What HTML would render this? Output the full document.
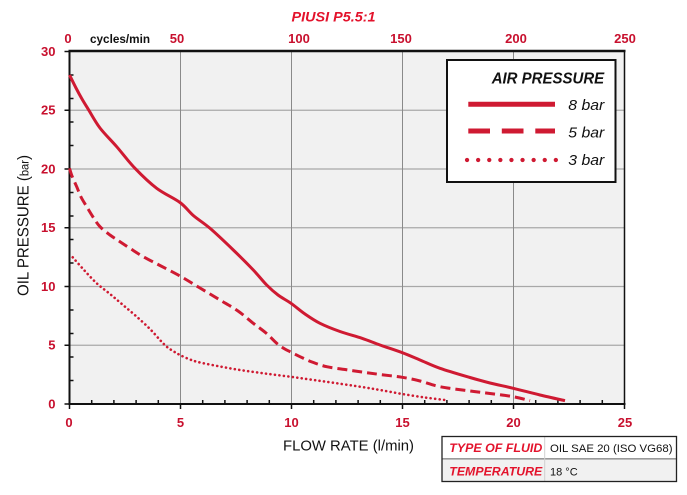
<!DOCTYPE html>
<html>
<head>
<meta charset="utf-8">
<style>
  html,body{margin:0;padding:0;background:#fff;}
  svg{display:block;}
  text{font-family:"Liberation Sans", sans-serif;}
</style>
</head>
<body>
<svg width="687" height="495" viewBox="0 0 687 495" xmlns="http://www.w3.org/2000/svg">
  <!-- title -->
  <text x="291.5" y="21.5" font-size="14" font-weight="bold" font-style="italic" fill="#e3132c" textLength="84" lengthAdjust="spacingAndGlyphs">PIUSI  P5.5:1</text>

  <!-- top axis labels -->
  <g font-size="13" font-weight="bold" fill="#c8102e" text-anchor="middle">
    <text x="68" y="43">0</text>
    <text x="177" y="43">50</text>
    <text x="299" y="43">100</text>
    <text x="401" y="43">150</text>
    <text x="516" y="43">200</text>
    <text x="625" y="43">250</text>
  </g>
  <text x="90" y="43" font-size="12" font-weight="bold" fill="#111" textLength="60" lengthAdjust="spacingAndGlyphs">cycles/min</text>

  <!-- plot background -->
  <rect x="69.5" y="51" width="555" height="353" fill="#f1f1f1"/>

  <!-- gridlines -->
  <g stroke="#a8a8a8" stroke-width="1.3">
    <line x1="69.5" y1="345.25" x2="624.5" y2="345.25"/>
    <line x1="69.5" y1="286.5" x2="624.5" y2="286.5"/>
    <line x1="69.5" y1="227.75" x2="624.5" y2="227.75"/>
    <line x1="69.5" y1="169" x2="624.5" y2="169"/>
    <line x1="69.5" y1="110.25" x2="624.5" y2="110.25"/>
  </g>
  <g stroke="#8a8a8a" stroke-width="1">
    <line x1="180.5" y1="51" x2="180.5" y2="404"/>
    <line x1="291.5" y1="51" x2="291.5" y2="404"/>
    <line x1="402.5" y1="51" x2="402.5" y2="404"/>
    <line x1="513.5" y1="51" x2="513.5" y2="404"/>
  </g>

  <!-- axes/border -->
  <line x1="68.5" y1="51" x2="625.5" y2="51" stroke="#111" stroke-width="2.6"/>
  <line x1="624.5" y1="51" x2="624.5" y2="405" stroke="#111" stroke-width="1.5"/>
  <line x1="69.5" y1="50" x2="69.5" y2="405" stroke="#111" stroke-width="2"/>
  <line x1="68.5" y1="404" x2="625.5" y2="404" stroke="#111" stroke-width="2"/>

  <!-- y ticks -->
  <g stroke="#111" stroke-width="1.5">
    <line x1="64.5" y1="404" x2="69.5" y2="404"/>
    <line x1="64.5" y1="345.25" x2="69.5" y2="345.25"/>
    <line x1="64.5" y1="286.5" x2="69.5" y2="286.5"/>
    <line x1="64.5" y1="227.75" x2="69.5" y2="227.75"/>
    <line x1="64.5" y1="169" x2="69.5" y2="169"/>
    <line x1="64.5" y1="110.25" x2="69.5" y2="110.25"/>
    <line x1="64.5" y1="51.5" x2="69.5" y2="51.5"/>
    <line x1="69.5" y1="380.5" x2="73.5" y2="380.5"/>
    <line x1="69.5" y1="357" x2="73.5" y2="357"/>
    <line x1="69.5" y1="333.5" x2="73.5" y2="333.5"/>
    <line x1="69.5" y1="310" x2="73.5" y2="310"/>
    <line x1="69.5" y1="263" x2="73.5" y2="263"/>
    <line x1="69.5" y1="239.5" x2="73.5" y2="239.5"/>
    <line x1="69.5" y1="216" x2="73.5" y2="216"/>
    <line x1="69.5" y1="192.5" x2="73.5" y2="192.5"/>
    <line x1="69.5" y1="145.5" x2="73.5" y2="145.5"/>
    <line x1="69.5" y1="122" x2="73.5" y2="122"/>
    <line x1="69.5" y1="98.5" x2="73.5" y2="98.5"/>
    <line x1="69.5" y1="75" x2="73.5" y2="75"/>
  </g>

  <!-- x ticks -->
  <g stroke="#111" stroke-width="1.5">
    <line x1="69.5" y1="404" x2="69.5" y2="409"/>
    <line x1="180.5" y1="404" x2="180.5" y2="409"/>
    <line x1="291.5" y1="404" x2="291.5" y2="409"/>
    <line x1="402.5" y1="404" x2="402.5" y2="409"/>
    <line x1="513.5" y1="404" x2="513.5" y2="409"/>
    <line x1="624.5" y1="404" x2="624.5" y2="409"/>
    <line x1="91.7" y1="400" x2="91.7" y2="404"/>
    <line x1="113.9" y1="400" x2="113.9" y2="404"/>
    <line x1="136.1" y1="400" x2="136.1" y2="404"/>
    <line x1="158.3" y1="400" x2="158.3" y2="404"/>
    <line x1="202.7" y1="400" x2="202.7" y2="404"/>
    <line x1="224.9" y1="400" x2="224.9" y2="404"/>
    <line x1="247.1" y1="400" x2="247.1" y2="404"/>
    <line x1="269.3" y1="400" x2="269.3" y2="404"/>
    <line x1="313.7" y1="400" x2="313.7" y2="404"/>
    <line x1="335.9" y1="400" x2="335.9" y2="404"/>
    <line x1="358.1" y1="400" x2="358.1" y2="404"/>
    <line x1="380.3" y1="400" x2="380.3" y2="404"/>
    <line x1="424.7" y1="400" x2="424.7" y2="404"/>
    <line x1="446.9" y1="400" x2="446.9" y2="404"/>
    <line x1="469.1" y1="400" x2="469.1" y2="404"/>
    <line x1="491.3" y1="400" x2="491.3" y2="404"/>
    <line x1="535.7" y1="400" x2="535.7" y2="404"/>
    <line x1="557.9" y1="400" x2="557.9" y2="404"/>
    <line x1="580.1" y1="400" x2="580.1" y2="404"/>
    <line x1="602.3" y1="400" x2="602.3" y2="404"/>
  </g>

  <!-- y labels -->
  <g font-size="13" font-weight="bold" fill="#c8102e" text-anchor="end">
    <text x="55.5" y="408.5">0</text>
    <text x="55.5" y="349.7">5</text>
    <text x="55.5" y="291">10</text>
    <text x="55.5" y="232.2">15</text>
    <text x="55.5" y="173.5">20</text>
    <text x="55.5" y="114.7">25</text>
    <text x="55.5" y="56">30</text>
  </g>

  <!-- x labels -->
  <g font-size="13" font-weight="bold" fill="#c8102e" text-anchor="middle">
    <text x="69" y="427">0</text>
    <text x="180.5" y="427">5</text>
    <text x="291.5" y="427">10</text>
    <text x="402.5" y="427">15</text>
    <text x="513.5" y="427">20</text>
    <text x="625" y="427">25</text>
  </g>

  <!-- axis titles -->
  <text x="283" y="450.5" font-size="15" fill="#111" textLength="131" lengthAdjust="spacingAndGlyphs">FLOW RATE (l/min)</text>
  <text transform="translate(28.5,296) rotate(-90)" font-size="15.5" fill="#111" textLength="141" lengthAdjust="spacingAndGlyphs">OIL PRESSURE (<tspan font-size="11.5">bar</tspan>)</text>

  <!-- curves -->
  <g fill="none" stroke="#cf1a32" stroke-linejoin="round">
    <polyline class="sm" stroke-width="3" points="69.5,75 76,88 82,99 88.3,109.3 100,128 116.7,146.7 135,168.3 156.7,188.3 180,202.5 193.3,215.5 210,228.3 233.3,250 253.3,270 266.7,285 278,295 291,303.3 305,314 320,323.3 340,331.5 362,338.3 380,345 402.3,352.7 420,360 440,368.3 470,377.5 490,383 513.3,388.3 540,395 565,400.7"/>
    <polyline class="sm" stroke-width="3" stroke-dasharray="10 5" points="69.5,168.3 72,176 76.7,186.7 81,197 86.7,206.7 93,217 100,226.7 110,235 120,241.7 131,249 143.3,256.7 160,265.5 180,276 200,288 220,300 238,311 253.3,323.3 266,333 276.7,343.3 284,348.5 290,351.7 300,356.7 312,362 326.7,366.7 345,369.5 362,372 380,374.5 402.3,377.3 420,381 440,386.7 470,391 490,393.5 513.3,396.7 530,400.7"/>
    <polyline class="sm" stroke-width="2.6" stroke-linecap="round" stroke-dasharray="0.1 4.4" points="72.7,257.3 84,270 96.7,283.3 110,294 123,305 136.7,316.7 150,329 160,340 166.7,346.7 173,351 180,355 190,359.5 200,362.5 220,366.5 240,370 265,373.5 290,376.7 310,379.5 330,382.3 360,386.7 380,390 402.3,394 425,397.5 445,400"/>
  </g>

  <!-- legend -->
  <rect x="447" y="60" width="168.5" height="122" fill="#fff" stroke="#111" stroke-width="2"/>
  <text x="491.7" y="83.3" font-size="16" font-weight="bold" font-style="italic" fill="#111" textLength="112.5" lengthAdjust="spacingAndGlyphs">AIR PRESSURE</text>
  <line x1="468.3" y1="104.3" x2="555" y2="104.3" stroke="#cf1a32" stroke-width="5"/>
  <line x1="468.3" y1="131" x2="555" y2="131" stroke="#cf1a32" stroke-width="5" stroke-dasharray="21.7 11.8"/>
  <line x1="467" y1="160" x2="556" y2="160" stroke="#cf1a32" stroke-width="4.2" stroke-linecap="round" stroke-dasharray="0.1 11"/>
  <g font-size="15" font-style="italic" fill="#111">
    <text x="568.3" y="110" textLength="36" lengthAdjust="spacingAndGlyphs">8 bar</text>
    <text x="568.3" y="137.5" textLength="36" lengthAdjust="spacingAndGlyphs">5 bar</text>
    <text x="568.3" y="165" textLength="36" lengthAdjust="spacingAndGlyphs">3 bar</text>
  </g>

  <!-- fluid info box -->
  <rect x="442" y="436.5" width="234.5" height="22.5" fill="#fff"/>
  <rect x="442" y="459" width="234.5" height="22.5" fill="#f1f1f1"/>
  <line x1="442" y1="458.8" x2="676.5" y2="458.8" stroke="#999" stroke-width="1.6"/>
  <line x1="544.7" y1="436.5" x2="544.7" y2="481.5" stroke="#d0d0d0" stroke-width="1"/>
  <rect x="442" y="436.5" width="234.5" height="45" fill="none" stroke="#222" stroke-width="1.3"/>
  <g font-size="11.5" font-weight="bold" font-style="italic" fill="#e3132c">
    <text x="449.3" y="452" textLength="93" lengthAdjust="spacingAndGlyphs">TYPE OF FLUID</text>
    <text x="449.3" y="475.5" textLength="93" lengthAdjust="spacingAndGlyphs">TEMPERATURE</text>
  </g>
  <g font-size="11" fill="#111">
    <text x="550" y="452" textLength="122.5" lengthAdjust="spacingAndGlyphs">OIL SAE 20 (ISO VG68)</text>
    <text x="550" y="475.5">18 °C</text>
  </g>
</svg>
<script>
(function(){
  var ns="http://www.w3.org/2000/svg";
  var pls=document.querySelectorAll("polyline.sm");
  for(var k=0;k<pls.length;k++){
    var pl=pls[k];
    var pts=pl.getAttribute("points").trim().split(/\s+/).map(function(s){var a=s.split(",");return [parseFloat(a[0]),parseFloat(a[1])];});
    var d="M"+pts[0][0]+","+pts[0][1];
    for(var i=0;i<pts.length-1;i++){
      var p0=pts[i>0?i-1:i],p1=pts[i],p2=pts[i+1],p3=pts[i+2<pts.length?i+2:i+1];
      var c1x=p1[0]+(p2[0]-p0[0])/6,c1y=p1[1]+(p2[1]-p0[1])/6;
      var c2x=p2[0]-(p3[0]-p1[0])/6,c2y=p2[1]-(p3[1]-p1[1])/6;
      d+=" C"+c1x.toFixed(2)+","+c1y.toFixed(2)+" "+c2x.toFixed(2)+","+c2y.toFixed(2)+" "+p2[0]+","+p2[1];
    }
    var path=document.createElementNS(ns,"path");
    for(var j=0;j<pl.attributes.length;j++){
      var at=pl.attributes[j];
      if(at.name!=="points"&&at.name!=="class")path.setAttribute(at.name,at.value);
    }
    path.setAttribute("d",d);
    pl.parentNode.replaceChild(path,pl);
  }
})();
</script>
</body>
</html>
